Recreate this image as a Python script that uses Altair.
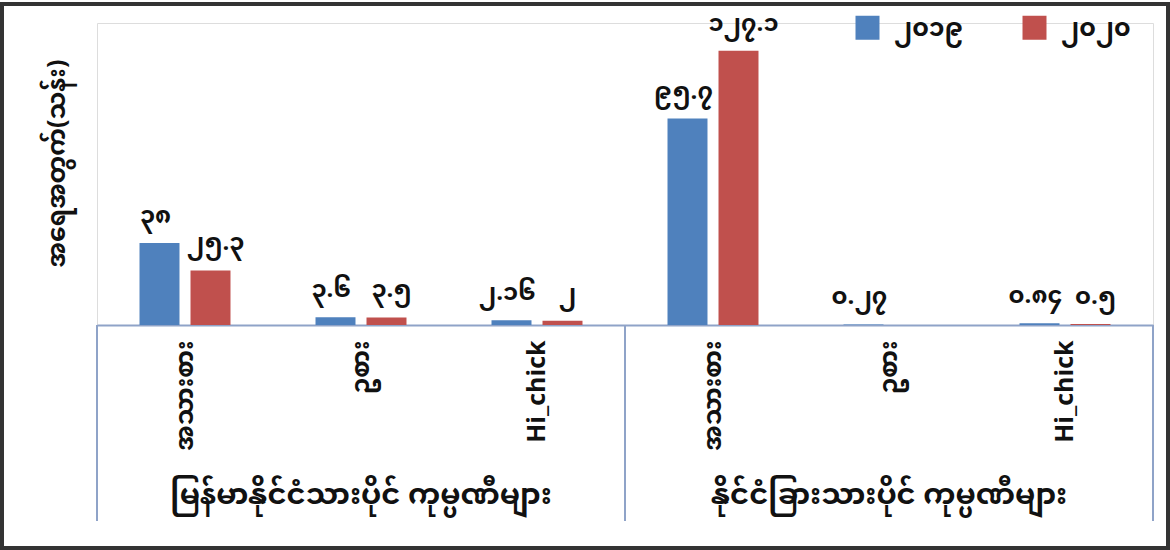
import altair as alt
import pandas as pd

# Ownership groups and hatchery product types
groups = ["မြန်မာနိုင်ငံသားပိုင် ကုမ္ပဏီများ", "နိုင်ငံခြားသားပိုင် ကုမ္ပဏီများ"]
categories = ["အသားစား", "ဥစား", "Hi_chick"]
years = ["၂၀၁၉", "၂၀၂၀"]

# Chick output (millions), group by group, category by category
values_2019 = [38, 3.6, 2.16, 95.7, 0.27, 0.84]
values_2020 = [25.3, 3.5, 2, 127.1, None, 0.5]

MM_DIGITS = str.maketrans("0123456789.", "၀၁၂၃၄၅၆၇၈၉.")


def to_mm(v):
    s = f"{v:g}"
    return s.translate(MM_DIGITS)


rows = []
i = 0
for g in groups:
    for c in categories:
        for y, vals in zip(years, [values_2019, values_2020]):
            v = vals[i]
            if v is not None:
                rows.append({"group": g, "cat": c, "key": g + "|" + c,
                             "year": y, "value": v, "label": to_mm(v)})
        i += 1
df = pd.DataFrame(rows)
keys = [g + "|" + c for g in groups for c in categories]

FONT = "Noto Sans Myanmar, Padauk, Myanmar Text, Noto Sans, DejaVu Sans"
W, H = 1056, 302
BLUE, RED = "#4F81BD", "#C0504D"
LINE = "#8FA3C8"
INK = "#111111"

x_enc = alt.X("key:N", sort=keys, title=None,
              scale=alt.Scale(paddingInner=0.483, paddingOuter=0.2415),
              axis=alt.Axis(labelExpr="split(datum.label, '|')[1]",
                            labelAngle=270, labelAlign="right",
                            labelBaseline="middle", labelPadding=15,
                            labelFontSize=25, labelFont=FONT,
                            labelColor=INK, labelFontWeight="bold",
                            ticks=False, domainColor=LINE, domainWidth=2))
y_scale = alt.Scale(domain=[0, 140])

base = alt.Chart(df)

bars = base.mark_bar().encode(
    x=x_enc,
    xOffset=alt.XOffset("year:N", sort=years,
                        scale=alt.Scale(paddingInner=0.216, paddingOuter=0)),
    y=alt.Y("value:Q", scale=y_scale,
            axis=alt.Axis(title="အရေအတွက်(သန်း)", labels=False, ticks=False,
                          domain=False, grid=False, titleFont=FONT,
                          titleFontSize=25, titleColor=INK,
                          titlePadding=28, titleY=140,
                          titleFontWeight="bold")),
    color=alt.Color("year:N", sort=years,
                    scale=alt.Scale(domain=years, range=[BLUE, RED]),
                    legend=alt.Legend(title=None, orient="none",
                                      direction="horizontal",
                                      legendX=758, legendY=-8,
                                      symbolType="square", symbolSize=576,
                                      symbolStrokeWidth=0,
                                      labelFontSize=25, labelFont=FONT,
                                      labelColor=INK, columnPadding=58,
                                      labelOffset=14,
                                      labelFontWeight="bold")),
)


def value_text(year, dx):
    return base.transform_filter(alt.datum.year == year).mark_text(
        baseline="bottom", dy=-15, dx=dx, fontSize=24, font=FONT,
        color=INK, fontWeight="bold").encode(
        x=alt.X("key:N", sort=keys),
        xOffset=alt.XOffset("year:N", sort=years),
        y=alt.Y("value:Q", scale=y_scale),
        text="label:N",
    )


value_labels = [value_text(years[0], -4), value_text(years[1], 5)]

group_df = pd.DataFrame({"group": groups,
                         "key": [g + "|" + categories[1] for g in groups]})
group_labels = alt.Chart(group_df).mark_text(
    fontSize=29, font=FONT, color=INK, baseline="middle",
    fontWeight="bold").encode(
    x=alt.X("key:N", sort=keys),
    y=alt.value(H + 170),
    text="group:N",
)

# Vertical dividers framing the two ownership groups below the axis
dividers = [
    alt.Chart(df).mark_rule(color=LINE, strokeWidth=2).encode(
        x=alt.value(px), y=alt.value(H), y2=alt.value(H + 196))
    for px in (0, W / 2, W)
]

# Dark frame around the whole figure
frame = alt.Chart(df).mark_rect(fill="transparent", stroke="#333",
                                strokeWidth=4).encode(
    x=alt.value(-95), x2=alt.value(W + 15),
    y=alt.value(-19), y2=alt.value(H + 223))

chart = alt.layer(bars, *value_labels, group_labels, *dividers, frame).properties(
    width=W, height=H,
    padding={"left": 97, "top": 23, "right": 17, "bottom": 225},
    autosize=alt.AutoSizeParams(type="none"),
).configure_view(stroke="transparent", strokeWidth=0).configure(background="white")

chart.save("out.html", embed_options={"renderer": "svg", "actions": False})
